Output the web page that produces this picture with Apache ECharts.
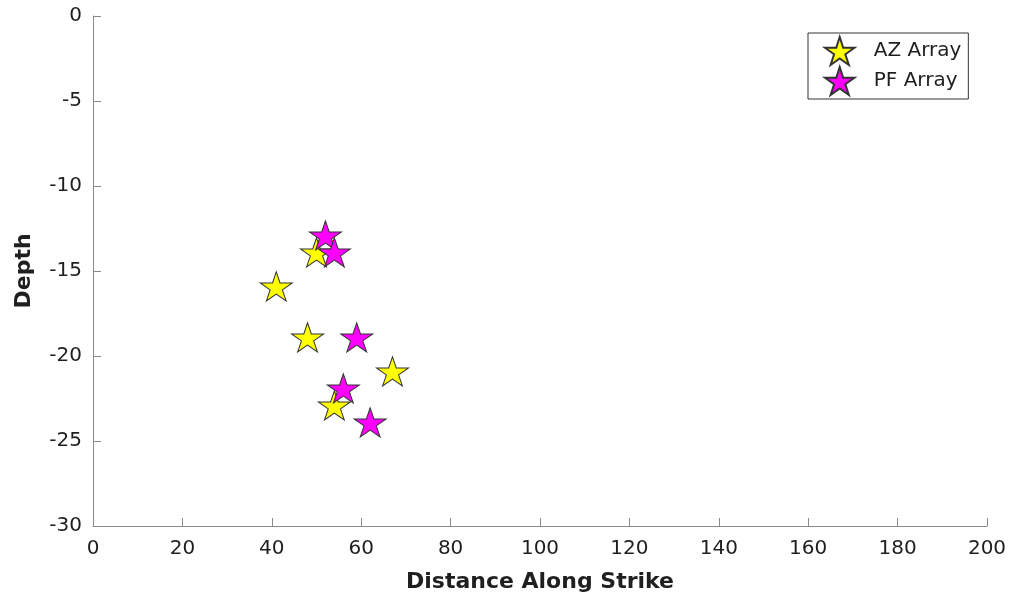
<!DOCTYPE html>
<html>
<head>
<meta charset="utf-8">
<script src="https://cdn.jsdelivr.net/npm/echarts@6/dist/echarts.min.js"></script>
<style>
  html, body { margin: 0; padding: 0; background: #fff; }
  #main { width: 1013px; height: 603px; }
</style>
</head>
<body>
<div id="main"></div>
<script>
// data
var azDist = [41, 48, 50, 54, 67];
var azDepth = [-16, -19, -14, -23, -21];
var pfDist = [52, 54, 59, 56, 62];
var pfDepth = [-13, -14, -19, -22, -24];
var xTicks = [0, 20, 40, 60, 80, 100, 120, 140, 160, 180, 200];
var yTicks = [-30, -25, -20, -15, -10, -5, 0];

// pentagram like matlab's marker
var star = 'path://M0,-1L0.2245,-0.309L0.9511,-0.309L0.3633,0.118L0.5878,0.809L0,0.382L-0.5878,0.809L-0.3633,0.118L-0.9511,-0.309L-0.2245,-0.309Z';

function pairs(xs, ys) {
	return xs.map(function (x, i) { return [x, ys[i]]; });
}

var font = 'DejaVu Sans';
var axisGrey = '#8a8a8a';
var textCol = '#1f1f1f';

var myChart = echarts.init(document.getElementById('main'), null, { renderer: 'canvas' });

function starSeries(name, data, color) {
	return {
		name: name,
		type: 'scatter',
		data: data,
		symbol: star,
		symbolSize: [32, 30.4],
		symbolKeepAspect: true,
		symbolOffset: [0, -1.6],
		itemStyle: { color: color, borderColor: '#333', borderWidth: 1, opacity: 1 },
		emphasis: { disabled: true },
		animation: false
	};
}

myChart.setOption({
	backgroundColor: '#fff',
	animation: false,
	textStyle: { fontFamily: font },
	grid: { left: 93, top: 16, right: 26, bottom: 77, containLabel: false },
	legend: {
		left: 808,
		top: 33,
		orient: 'vertical',
		padding: [3, 7, 3, 16],
		itemWidth: 30,
		itemHeight: 28,
		itemGap: 0,
		borderColor: '#333',
		borderWidth: 1,
		backgroundColor: '#fff',
		textStyle: { fontFamily: font, fontSize: 20, color: textCol, padding: [0, 0, 0, 14] },
		data: ['AZ Array', 'PF Array']
	},
	xAxis: {
		type: 'value',
		min: xTicks[0],
		max: xTicks[xTicks.length - 1],
		interval: 20,
		name: 'Distance Along Strike',
		nameLocation: 'middle',
		nameGap: 45,
		nameTextStyle: { fontFamily: font, fontSize: 22, fontWeight: 'bold', color: textCol },
		axisLine: { show: true, onZero: false, lineStyle: { color: axisGrey, width: 1 } },
		axisTick: { show: true, inside: true, length: 8, lineStyle: { color: axisGrey } },
		axisLabel: { fontFamily: font, fontSize: 20, color: textCol, margin: 13 },
		splitLine: { show: false }
	},
	yAxis: {
		type: 'value',
		min: yTicks[0],
		max: yTicks[yTicks.length - 1],
		interval: 5,
		name: 'Depth',
		nameLocation: 'middle',
		nameGap: 58,
		nameRotate: 90,
		nameTextStyle: { fontFamily: font, fontSize: 22, fontWeight: 'bold', color: textCol },
		axisLine: { show: true, onZero: false, lineStyle: { color: axisGrey, width: 1 } },
		axisTick: { show: true, inside: true, length: 8, lineStyle: { color: axisGrey } },
		axisLabel: { fontFamily: font, fontSize: 20, color: textCol, margin: 11 },
		splitLine: { show: false }
	},
	series: [
		starSeries('AZ Array', pairs(azDist, azDepth), '#ffff00'),
		starSeries('PF Array', pairs(pfDist, pfDepth), '#ff00ff')
	]
});
</script>
</body>
</html>
